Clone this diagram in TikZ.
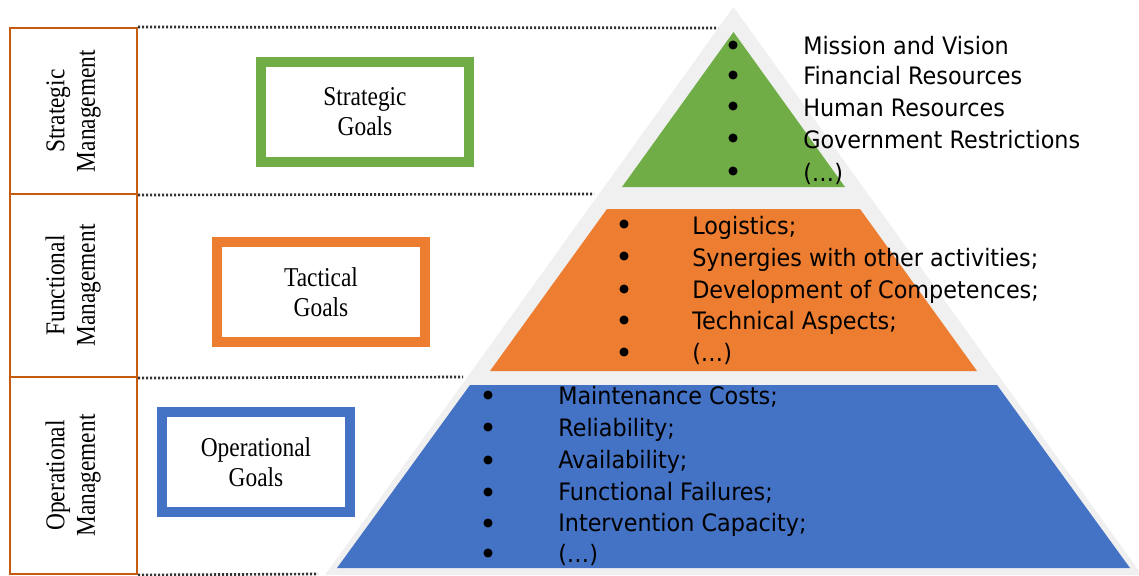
\documentclass[tikz,border=0pt]{standalone}
\usepackage{fontspec}
\usepackage{graphicx}
\usepackage{tikz}
\newfontfamily\goalfont[FakeStretch=0.86]{Liberation Serif}
\newfontfamily\itemfont[FakeStretch=0.93]{DejaVu Sans}
\definecolor{mgmtline}{RGB}{197,90,17}
\definecolor{stratgreen}{RGB}{112,173,71}
\definecolor{tactorange}{RGB}{237,125,49}
\definecolor{operblue}{RGB}{68,114,196}
\definecolor{pyrgrey}{RGB}{240,240,240}

\begin{document}
\begin{tikzpicture}[x=0.75pt,y=0.75pt,yscale=-1,xscale=1,
  mgmt/.style={draw=mgmtline, line width=1.5pt, minimum width=95.25pt, inner sep=0pt, font=\goalfont\fontsize{20.4pt}{23pt}\selectfont},
  goal/.style={line width=7.5pt, minimum height=75pt, align=center, inner sep=0pt, font=\goalfont\fontsize{20.4pt}{22.5pt}\selectfont},
  dotline/.style={line width=2pt, dash pattern={on 1.6pt off 1.4pt}, color=black!80},
  bullet/.style={circle, fill=black, inner sep=0pt, minimum size=6.8pt},
  item/.style={anchor=west, inner sep=0pt, font=\itemfont\fontsize{18pt}{21pt}\selectfont, text height=15pt, text depth=0pt}]
\useasboundingbox (0,0) rectangle (1139,575);

%Shape: pyramid background
\fill [pyrgrey] (733.5,7) -- (1142,575) -- (325,575) -- cycle ;
%Shape: top layer
\fill [stratgreen] (733.5,32) -- (845,187) -- (622,187) -- cycle ;
%Shape: middle layer
\fill [tactorange] (607,209) -- (860,209) -- (977,371) -- (490,371) -- cycle ;
%Shape: bottom layer
\fill [operblue] (470,385) -- (997,385) -- (1130,568) -- (337,568) -- cycle ;

% Management levels
\node (sm) [mgmt, minimum height=124.5pt] at (73.5,111) {\rotatebox{90}{\begin{tabular}{c}Strategic\\Management\end{tabular}}};
\node (fm) [mgmt, minimum height=137.25pt] at (73.5,285.5) {\rotatebox{90}{\begin{tabular}{c}Functional\\Management\end{tabular}}};
\node (om) [mgmt, minimum height=147.75pt] at (73.5,475.5) {\rotatebox{90}{\begin{tabular}{c}Operational\\Management\end{tabular}}};

% Goals
\node (sg) [goal, draw=stratgreen, minimum width=156pt] at (365,111.5) {Strategic\\Goals};
\node (tg) [goal, draw=tactorange, minimum width=156pt] at (321,292) {Tactical\\Goals};
\node (og) [goal, draw=operblue, minimum width=141pt] at (256,462) {Operational\\Goals};

% Dotted separators
\coordinate (e1) at (718,28);
\coordinate (e2) at (594,194);
\coordinate (e3) at (463,377);
\coordinate (e4) at (318,574);
\draw [dotline] (sm.north east) -- (e1) ;
\draw [dotline] (sm.south east) -- (e2) ;
\draw [dotline] (fm.south east) -- (e3) ;
\draw [dotline] (om.south east) -- (e4) ;

% Top layer items
\node (gb1) [bullet] at (733,45) {};
\node (gb2) [bullet] at (733,75) {};
\node (gb3) [bullet] at (733,106) {};
\node (gb4) [bullet] at (733,138) {};
\node (gb5) [bullet] at (733,171) {};
\node (gi1) [item] at (803,44) {Mission and Vision};
\node (gi2) [item] at (803,74) {Financial Resources};
\node (gi3) [item] at (803,106) {Human Resources};
\node (gi4) [item] at (803,138) {Government Restrictions};
\node (gi5) [item] at (803,171) {(\ldots)};

% Middle layer items
\node (tb1) [bullet] at (624,224) {};
\node (tb2) [bullet] at (624,256) {};
\node (tb3) [bullet] at (624,289) {};
\node (tb4) [bullet] at (624,320) {};
\node (tb5) [bullet] at (624,352) {};
\node (ti1) [item] at (692,224) {Logistics;};
\node (ti2) [item] at (692,256) {Synergies with other activities;};
\node (ti3) [item] at (692,288) {Development of Competences;};
\node (ti4) [item] at (692,319) {Technical Aspects;};
\node (ti5) [item] at (692,351) {(\ldots)};

% Bottom layer items
\node (ob1) [bullet] at (488,395) {};
\node (ob2) [bullet] at (488,427) {};
\node (ob3) [bullet] at (488,460) {};
\node (ob4) [bullet] at (488,492) {};
\node (ob5) [bullet] at (488,523) {};
\node (ob6) [bullet] at (488,553) {};
\node (oi1) [item] at (558,394) {Maintenance Costs;};
\node (oi2) [item] at (558,426) {Reliability;};
\node (oi3) [item] at (558,458) {Availability;};
\node (oi4) [item] at (558,490) {Functional Failures;};
\node (oi5) [item] at (558,521) {Intervention Capacity;};
\node (oi6) [item] at (558,552) {(\ldots)};

\end{tikzpicture}
\end{document}
